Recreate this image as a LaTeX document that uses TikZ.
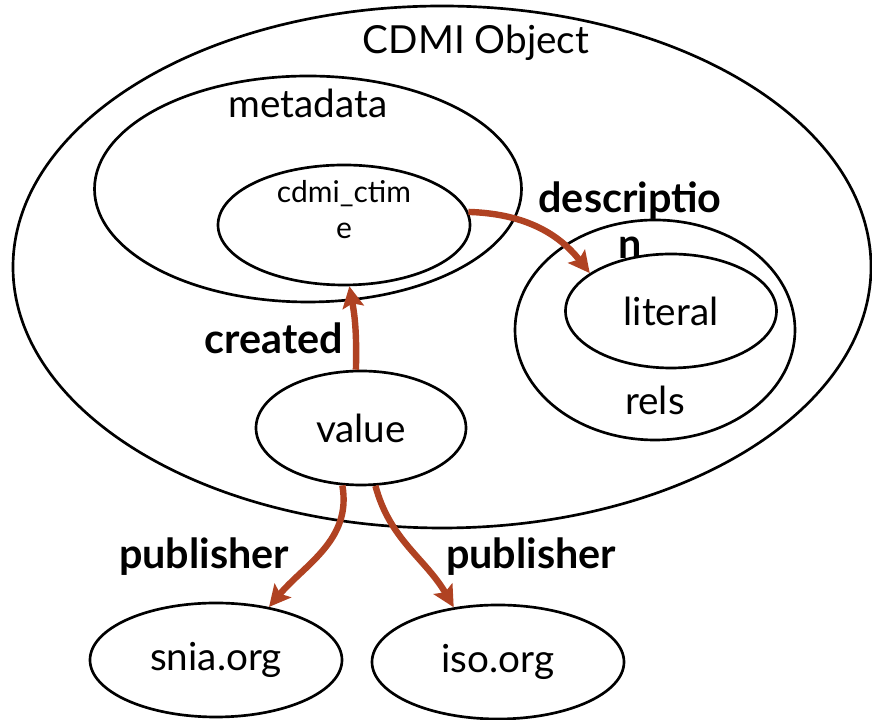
\documentclass[tikz,border=0pt]{standalone}
\usepackage{fontspec}
\setmainfont{Lato}
\usetikzlibrary{shapes.geometric,arrows.meta}
\definecolor{linkred}{RGB}{176,66,34}
\begin{document}
\begin{tikzpicture}[x=0.75pt, y=0.75pt,
	blob/.style={draw, ellipse, line width=2pt, inner sep=0pt},
	link/.style={draw=linkred, line width=4.8pt, -{Stealth[length=16pt,width=16pt,inset=3pt]}},
	word/.style={font=\fontsize{29}{34}\selectfont},
	small/.style={font=\fontsize{22.5}{27}\selectfont, align=center},
	tag/.style={font=\bfseries\fontsize{31}{34.5}\selectfont, align=center}]
	
	\useasboundingbox (0,0) rectangle (872,720);
	
	% 1. ellipses (sizes in pt = px * 0.75)
	\node[blob, minimum width=643.5pt, minimum height=391.5pt] (object) at (442,453) {};
	\node[blob, minimum width=320.25pt, minimum height=169.5pt] (meta) at (308,531) {};
	\node[blob, minimum width=189pt, minimum height=90pt] (ctime) at (344,495) {};
	\node[blob, minimum width=210pt, minimum height=165pt] (rels) at (655,390) {};
	\node[blob, minimum width=158.25pt, minimum height=85.5pt, word] (literal) at (671,409) {literal};
	\node[blob, minimum width=157.5pt, minimum height=85.5pt, word] (value) at (361,292) {value};
	\node[blob, minimum width=189pt, minimum height=85.5pt, word] (snia) at (216,60) {snia.org};
	\node[blob, minimum width=189pt, minimum height=85.5pt, word] (iso) at (498,58) {iso.org};
	
	% 2. ellipse labels
	\node[word] (objtext) at (476,677) {CDMI Object};
	\node[word] (metatext) at (308,617) {metadata};
	\node[small] (ctimetext) at (344,510) {cdmi\_ctim\\e};
	\node[word] (relstext) at (655,320) {rels};
	
	% 3. links
	\draw[link] (ctime.6) to[bend left=25] (literal.155);
	\draw[link] (value.95) to[bend right=6] (ctime.275);
	\draw[link] (value.252) to[out=-80, in=50] (snia.45);
	\draw[link] (value.284) to[out=-75, in=120] (iso.129);
	
	% 4. link labels
	\node[tag] (desc) at (630,500) {descriptio\\n};
	\node[tag] (created) at (274,382) {created};
	\node[tag] (publeft) at (204,163) {publisher};
	\node[tag] (pubright) at (531,163) {publisher};
	
\end{tikzpicture}
\end{document}
